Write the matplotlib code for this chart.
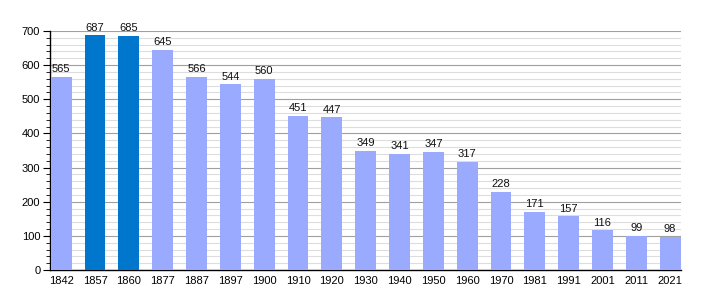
import matplotlib
matplotlib.use("Agg")
import matplotlib.pyplot as plt
from matplotlib.ticker import MultipleLocator

years = ["1842", "1857", "1860", "1877", "1887", "1897", "1900", "1910", "1920", "1930",
         "1940", "1950", "1960", "1970", "1981", "1991", "2001", "2011", "2021"]
population = [565, 687, 685, 645, 566, 544, 560, 451, 447, 349,
              341, 347, 317, 228, 171, 157, 116, 99, 98]
highlight = ["1857", "1860"]

plt.rcParams['font.family'] = ['Liberation Sans', 'DejaVu Sans']

fig = plt.figure(figsize=(7.1, 3.0), dpi=100)
ax = fig.add_axes([50/710, 30/300, 631/710, 239/300])

colors = ["#0077cc" if y in highlight else "#99aaff" for y in years]
x = list(range(len(years)))
ax.bar(x, population, width=0.62, color=colors, zorder=3)
for xi, v in zip(x, population):
    ax.text(xi, v + 8, str(v), ha='center', va='bottom', fontsize=8, color='#111111', zorder=4)

ax.set_xlim(-0.33, len(years) - 1 + 0.32)
ax.set_ylim(0, 700)
ax.yaxis.set_major_locator(MultipleLocator(100))
ax.yaxis.set_minor_locator(MultipleLocator(20))
ax.grid(axis='y', which='major', color='#a0a0a0', linewidth=0.8, zorder=0)
ax.grid(axis='y', which='minor', color='#dddddd', linewidth=0.8, zorder=0)
ax.set_xticks(x)
ax.set_xticklabels(years)
ax.tick_params(axis='x', length=0, labelsize=8, pad=4)
ax.tick_params(axis='y', which='major', length=5, labelsize=8, pad=2)
ax.tick_params(axis='y', which='minor', length=3)
for s in ['top', 'right']:
    ax.spines[s].set_visible(False)
ax.spines['left'].set_linewidth(1.0)
ax.spines['bottom'].set_linewidth(1.0)

fig.savefig("out.png", dpi=100)
